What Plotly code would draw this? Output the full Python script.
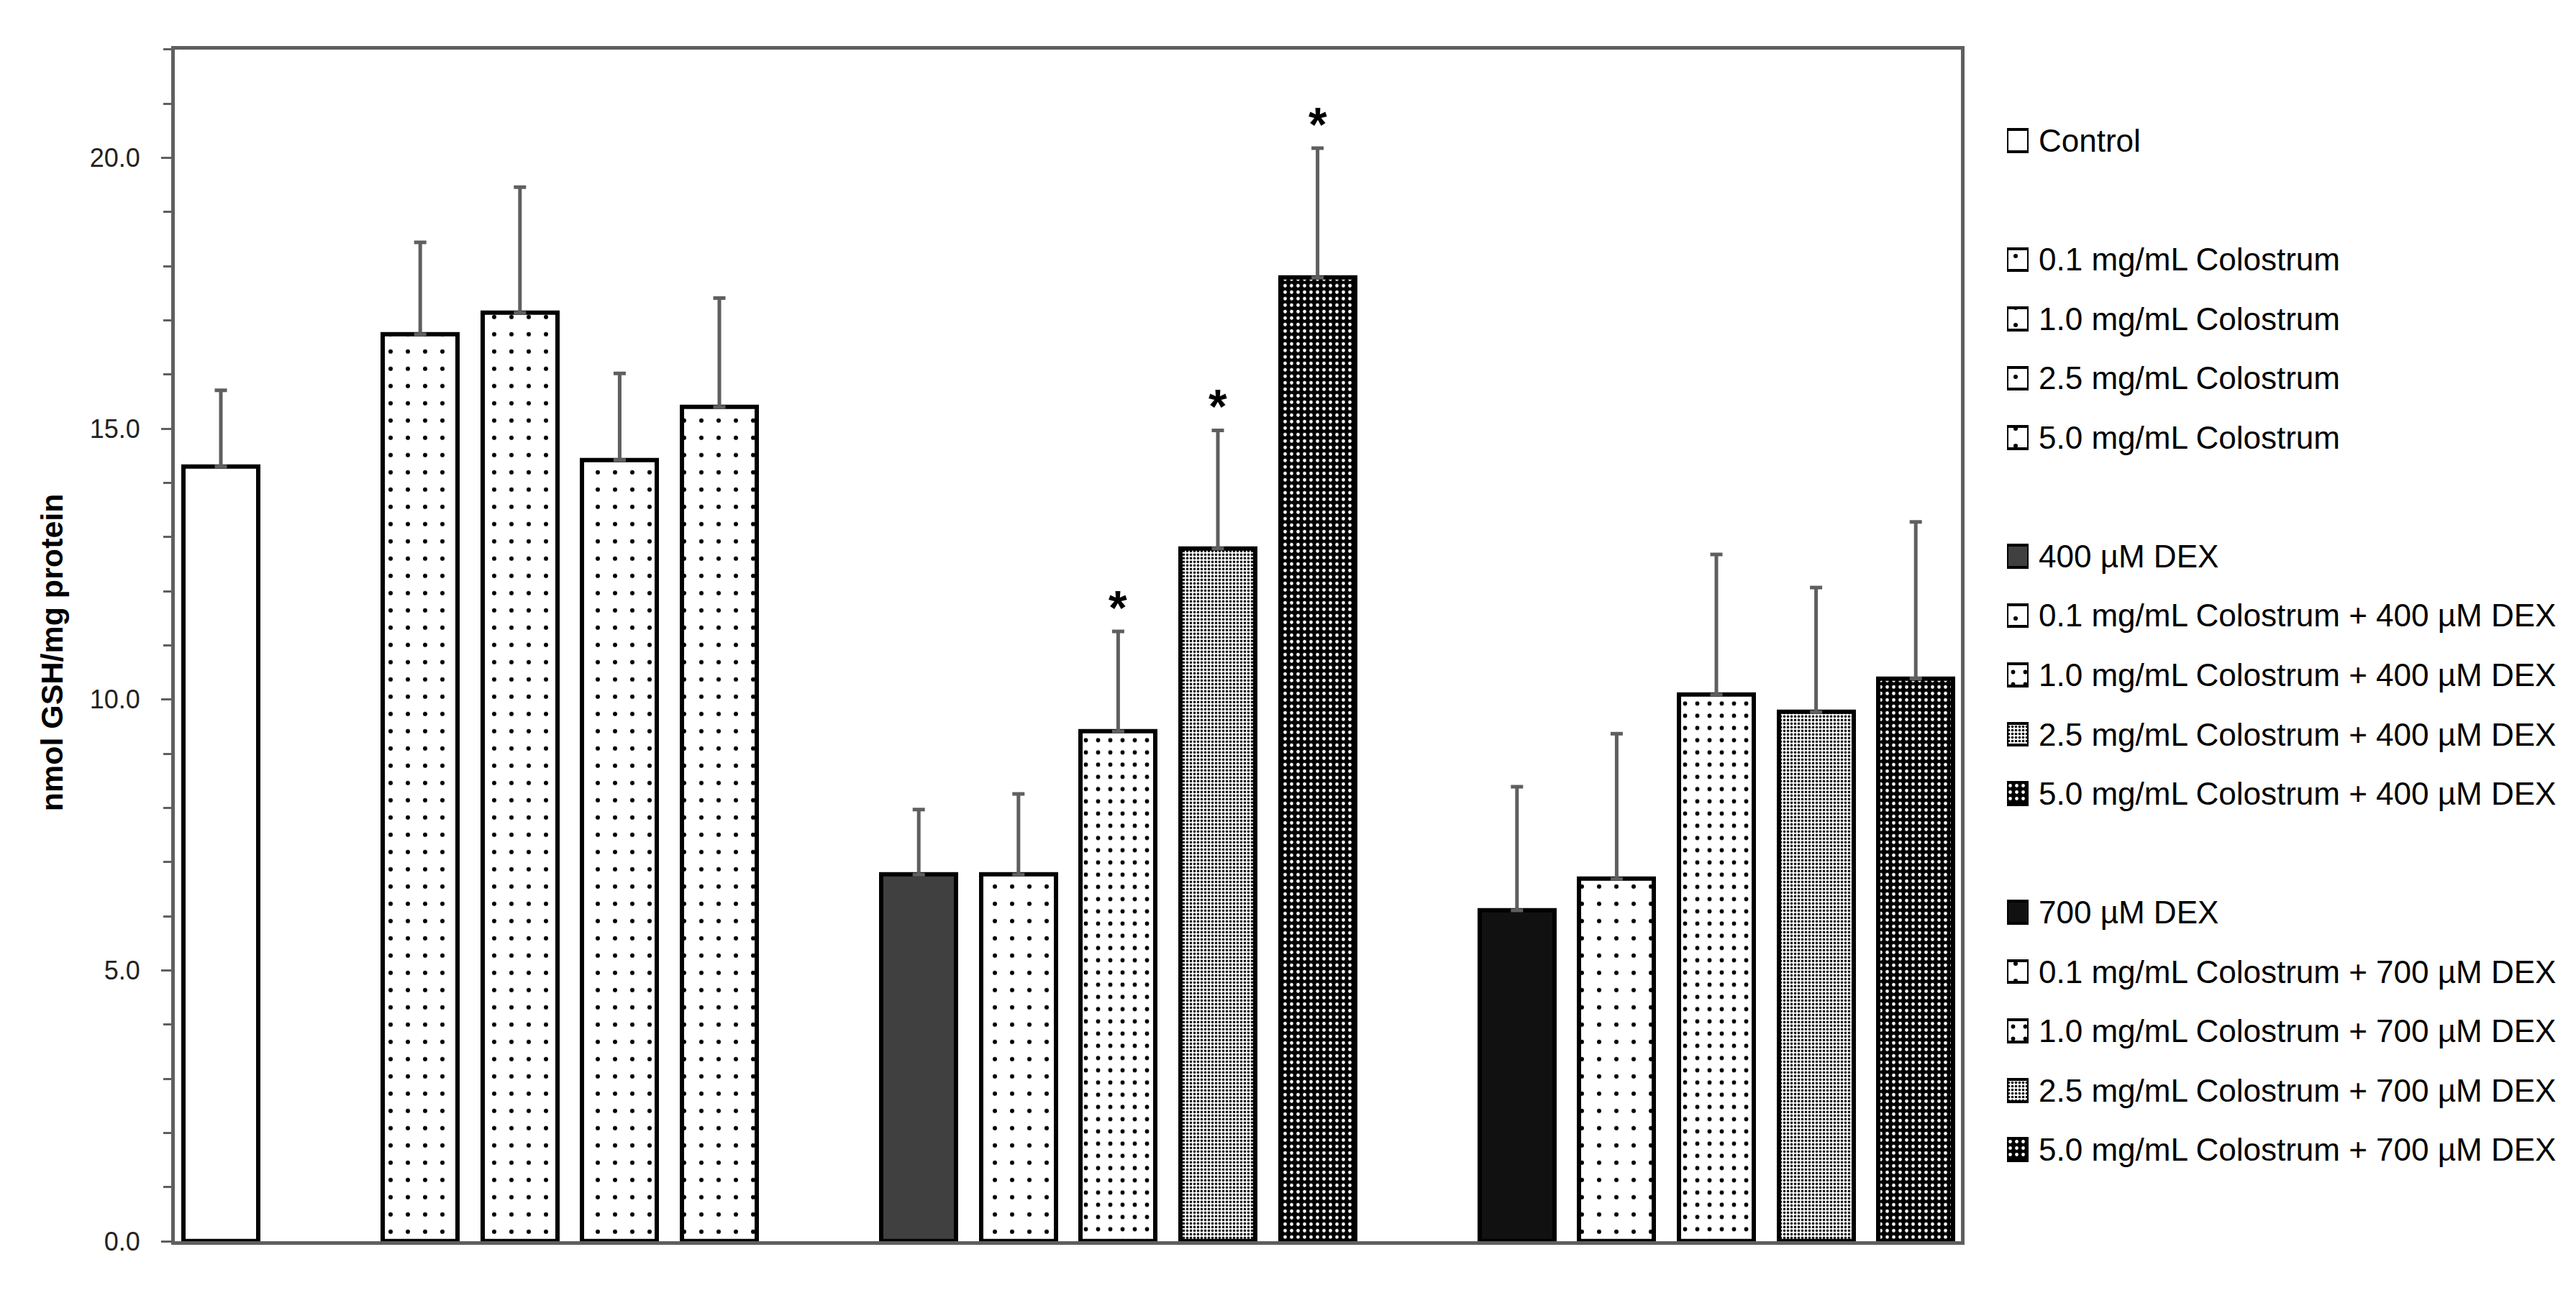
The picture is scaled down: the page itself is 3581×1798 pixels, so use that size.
import plotly.graph_objects as go

W, H = 3581, 1798

# ---------------- data ----------------
group_labels = [
    ["Control"],
    ["0.1 mg/mL Colostrum", "1.0 mg/mL Colostrum", "2.5 mg/mL Colostrum", "5.0 mg/mL Colostrum"],
    ["400 µM DEX", "0.1 mg/mL Colostrum + 400 µM DEX", "1.0 mg/mL Colostrum + 400 µM DEX",
     "2.5 mg/mL Colostrum + 400 µM DEX", "5.0 mg/mL Colostrum + 400 µM DEX"],
    ["700 µM DEX", "0.1 mg/mL Colostrum + 700 µM DEX", "1.0 mg/mL Colostrum + 700 µM DEX",
     "2.5 mg/mL Colostrum + 700 µM DEX", "5.0 mg/mL Colostrum + 700 µM DEX"],
]
group_values = [
    [14.30],
    [16.74, 17.14, 14.42, 15.40],
    [6.77, 6.77, 9.41, 12.79, 17.79],
    [6.11, 6.69, 10.09, 9.77, 10.39],
]
group_errors = [
    [1.41],
    [1.70, 2.32, 1.60, 2.01],
    [1.20, 1.49, 1.85, 2.18, 2.39],
    [2.28, 2.68, 2.59, 2.30, 2.89],
]
group_signif = [
    [False],
    [False, False, False, False],
    [False, False, True, True, True],
    [False, False, False, False, False],
]
y_tick_values = [0, 5, 10, 15, 20]
y_title = "nmol GSH/mg protein"

# ---------------- styles ----------------
FONT = "Liberation Sans, Arial, sans-serif"
AXIS_GREY = "#5f5f5f"

def style_for(label):
    if label == "Control":
        return dict(color="white")
    if label == "400 µM DEX":
        return dict(color="#404040")
    if label == "700 µM DEX":
        return dict(color="#111111")
    if label.startswith("0.1") or "DEX" not in label:
        return dict(color="white", pattern=dict(shape=".", size=24, solidity=0.05,
                                                fgcolor="black", bgcolor="white", fillmode="replace"))
    if label.startswith("1.0"):
        return dict(color="white", pattern=dict(shape=".", size=17, solidity=0.09,
                                                fgcolor="black", bgcolor="white", fillmode="replace"))
    if label.startswith("2.5"):
        return dict(color="white", pattern=dict(shape=".", size=5, solidity=0.42,
                                                fgcolor="black", bgcolor="white", fillmode="replace"))
    return dict(color="black", pattern=dict(shape=".", size=9, solidity=0.22,
                                            fgcolor="white", bgcolor="black", fillmode="replace"))

# ---------------- layout geometry (pixels) ----------------
PL, PR, PT, PB = 235, 2717.5, 61.5, 1738.5
SLOT_PX, FIRST_CENTER_PX = 138.6, 299
X_MIN = (PL - FIRST_CENTER_PX) / SLOT_PX
X_MAX = (PR - FIRST_CENTER_PX) / SLOT_PX
LEG_SW_X0, LEG_SW_X1, LEG_TXT_X = 2782, 2812, 2824
LEG_Y0, LEG_DY, SW_H = 190, 83.5, 31

fig = go.Figure()

labels, positions, values, errors, signif = [], [], [], [], []
pos = 0
for g_lab, g_val, g_err, g_sig in zip(group_labels, group_values, group_errors, group_signif):
    for lab, v, e, s in zip(g_lab, g_val, g_err, g_sig):
        labels.append(lab); positions.append(pos); values.append(v); errors.append(e); signif.append(s)
        pos += 1
    pos += 1

for lab, p, v, e in zip(labels, positions, values, errors):
    st = style_for(lab)
    fig.add_trace(go.Bar(
        x=[p], y=[v], width=0.75, name=lab, showlegend=False,
        marker=dict(line=dict(color="black", width=6), **st),
        error_y=dict(type="data", array=[e], arrayminus=[0], symmetric=False,
                     color=AXIS_GREY, thickness=5, width=8.5),
        xaxis="x", yaxis="y",
    ))

# significance asterisks
for lab, p, v, e, s in zip(labels, positions, values, errors, signif):
    if s:
        fig.add_annotation(x=p, y=v + e, xref="x", yref="y", text="<b>*</b>", showarrow=False,
                           yanchor="bottom", yshift=-6,
                           font=dict(family=FONT, size=66, color="black"))

# legend (swatches drawn as bars on a pixel-scaled helper axis, labels as text)
row = 0
for g_lab in group_labels:
    for lab in g_lab:
        cy = LEG_Y0 + LEG_DY * row
        st = style_for(lab)
        fig.add_trace(go.Bar(
            x=[0.5], y=[SW_H], base=[cy - SW_H / 2], width=1, showlegend=False, hoverinfo="skip",
            marker=dict(line=dict(color="black", width=4), **st),
            xaxis="x2", yaxis="y2",
        ))
        fig.add_annotation(x=LEG_TXT_X / W, y=1 - cy / H, xref="paper", yref="paper",
                           text=lab, showarrow=False, xanchor="left", yanchor="middle",
                           font=dict(family=FONT, size=44, color="black"))
        row += 1
    row += 1

# y axis title
fig.add_annotation(x=64 / W, y=1 - 910 / H, xref="paper", yref="paper", text="<b>" + y_title + "</b>",
                   textangle=-90, showarrow=False, xanchor="center", yanchor="middle",
                   font=dict(family=FONT, size=43, color="black"))

fig.update_layout(
    width=W, height=H, margin=dict(l=0, r=0, t=0, b=0),
    paper_bgcolor="white", plot_bgcolor="white",
    barmode="overlay", bargap=0,
    xaxis=dict(domain=[PL / W, PR / W], range=[X_MIN, X_MAX], showline=True, mirror=True,
               linecolor=AXIS_GREY, linewidth=5, ticks="", showticklabels=False,
               showgrid=False, zeroline=False),
    yaxis=dict(domain=[1 - PB / H, 1 - PT / H], range=[0, 22], showline=True, mirror=True,
               linecolor=AXIS_GREY, linewidth=5, tickvals=y_tick_values, tickformat=".1f",
               ticks="outside", ticklen=14, tickwidth=3, tickcolor=AXIS_GREY,
               minor=dict(dtick=1, ticks="outside", ticklen=11, tickwidth=3, tickcolor=AXIS_GREY),
               ticklabelstandoff=22,
               tickfont=dict(family=FONT, size=36, color="#222222"),
               showgrid=False, zeroline=False),
    xaxis2=dict(domain=[LEG_SW_X0 / W, LEG_SW_X1 / W], range=[0, 1], visible=False, fixedrange=True),
    yaxis2=dict(domain=[0, 1], range=[H, 0], visible=False, fixedrange=True, anchor="x2"),
)

fig.write_html("out.html")
